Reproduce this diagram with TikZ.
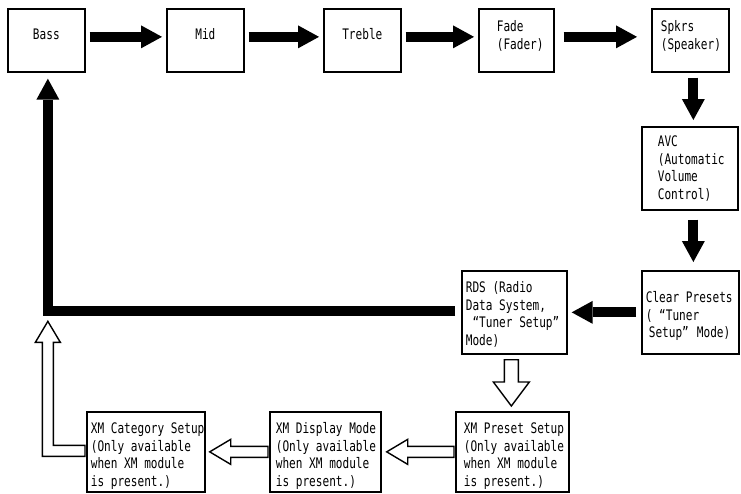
\documentclass[tikz,border=0pt]{standalone}
\usepackage{fontspec}
\newfontfamily\gfont[FakeStretch=0.765]{DejaVu Sans Mono}
\usetikzlibrary{arrows.meta,calc}
\newcommand\ltxt[5]{\parbox[c][#2][t]{#1}{\fontsize{14.5}{17.5}\selectfont\raggedright\leftskip=#4\relax\rule{0pt}{#3}#5}}
\newcommand\ctxt[4]{\parbox[c][#2][t]{#1}{\fontsize{14.5}{17.5}\selectfont\centering\rule{0pt}{#3}#4}}
\begin{document}
\begin{tikzpicture}[x=1pt,y=-1pt,
  stepbox/.style={draw, line width=1.7pt, inner sep=0pt, anchor=north west, font=\gfont},
  fatarrow/.style={line width=10pt, -{Triangle[width=23pt,length=21pt,line width=0pt]}},
  hollow/.style={draw, line width=1.4pt, fill=white, line join=miter}]
\fill[white] (0,0) rectangle (741,493);
\useasboundingbox (0,0) rectangle (741,493);

% top row
\node[stepbox] (bass)   at (7,8)   {\ctxt{77pt}{63pt}{31pt}{Bass}};
\node[stepbox] (mid)    at (166,8) {\ctxt{77pt}{63pt}{31pt}{Mid}};
\node[stepbox] (treble) at (323,8) {\ctxt{77pt}{63pt}{31pt}{Treble}};
\node[stepbox] (fade)   at (478,8) {\ltxt{75pt}{63pt}{23pt}{18pt}{Fade\\(Fader)}};
\node[stepbox] (spkrs)  at (651,8) {\ltxt{77pt}{63pt}{23pt}{9pt}{Spkrs\\(Speaker)}};

% right column
\node[stepbox] (avc)   at (641,126) {\ltxt{96pt}{83pt}{20pt}{16pt}{AVC\\(Automatic\\Volume\\Control)}};
\node[stepbox] (clear) at (641,270) {\ltxt{97pt}{83pt}{32pt}{4pt}{Clear~Presets\\(~“Tuner\\\hspace*{3pt}Setup”\hspace{8pt}Mode)}};
\node[stepbox] (rds)   at (461,270) {\ltxt{105pt}{83pt}{22pt}{4pt}{RDS~(Radio\\Data~System,\\~“Tuner~Setup”\\Mode)}};

% bottom row
\node[stepbox] (cat)  at (86,411)  {\ltxt{118pt}{80pt}{22pt}{4pt}{XM~Category~Setup\\(Only~available\\when~XM~module\\is~present.)}};
\node[stepbox] (disp) at (269,411) {\ltxt{111pt}{80pt}{22pt}{6pt}{XM~Display~Mode\\(Only~available\\when~XM~module\\is~present.)}};
\node[stepbox] (pres) at (455,411) {\ltxt{113pt}{80pt}{22pt}{8pt}{XM~Preset~Setup\\(Only~available\\when~XM~module\\is~present.)}};

% black arrows
\draw[fatarrow] ($(bass.east)+(4,-3.5)$) -- ($(mid.west)+(-4,-3.5)$);
\draw[fatarrow] ($(mid.east)+(4,-3.5)$) -- ($(treble.west)+(-4,-3.5)$);
\draw[fatarrow] ($(treble.east)+(4,-3.5)$) -- ($(fade.west)+(-4,-3.5)$);
\draw[fatarrow] ($(fade.east)+(9,-3.5)$) -- ($(spkrs.west)+(-14,-3.5)$);
\draw[fatarrow] ($(spkrs.south)+(3,5)$) -- ($(spkrs.south |- avc.north)+(3,-6)$);
\draw[fatarrow] ($(clear.north |- avc.south)+(3,9)$) -- ($(clear.north)+(3,-8)$);
\draw[fatarrow] ($(clear.west)+(-5,0)$) -- ($(rds.east)+(4,0)$);
\draw[fatarrow, line join=miter] ($(rds.west)+(-6,-1)$) -| ($(bass.south)+(1.5,6)$);

% hollow arrows
\draw[hollow] let \p1=($(rds.south)+(-3,5)$), \p2=($(pres.north)+(0,-5)$) in
  (\x1-7pt,\y1) -- (\x1-7pt,\y2+24pt) -- (\x1-18pt,\y2+24pt) -- (\x1,\y2)
  -- (\x1+18pt,\y2+24pt) -- (\x1+7pt,\y2+24pt) -- (\x1+7pt,\y1) -- cycle;
\draw[hollow] let \p1=($(pres.west)+(-1,0)$), \p2=($(disp.east)+(5,0)$) in
  (\x1,\y1+5.5pt) -- (\x2+21pt,\y1+5.5pt) -- (\x2+21pt,\y1+12.5pt) -- (\x2,\y1)
  -- (\x2+21pt,\y1-12.5pt) -- (\x2+21pt,\y1-5.5pt) -- (\x1,\y1-5.5pt) -- cycle;
\draw[hollow] let \p1=($(disp.west)+(-1,0)$), \p2=($(cat.east)+(4,0)$) in
  (\x1,\y1+5.5pt) -- (\x2+21pt,\y1+5.5pt) -- (\x2+21pt,\y1+12.5pt) -- (\x2,\y1)
  -- (\x2+21pt,\y1-12.5pt) -- (\x2+21pt,\y1-5.5pt) -- (\x1,\y1-5.5pt) -- cycle;
\draw[hollow] let \p1=($(cat.west)+(-1,-1)$), \p2=($(bass.south |- rds.west)+(1.5,9)$) in
  (\x1,\y1+5.5pt) -- (\x2+5.5pt,\y1+5.5pt) -- (\x2+5.5pt,\y2-21pt) -- (\x2+12.5pt,\y2-21pt)
  -- (\x2,\y2) -- (\x2-12.5pt,\y2-21pt) -- (\x2-5.5pt,\y2-21pt) -- (\x2-5.5pt,\y1-5.5pt)
  -- (\x1,\y1-5.5pt) -- cycle;
\end{tikzpicture}
\end{document}
